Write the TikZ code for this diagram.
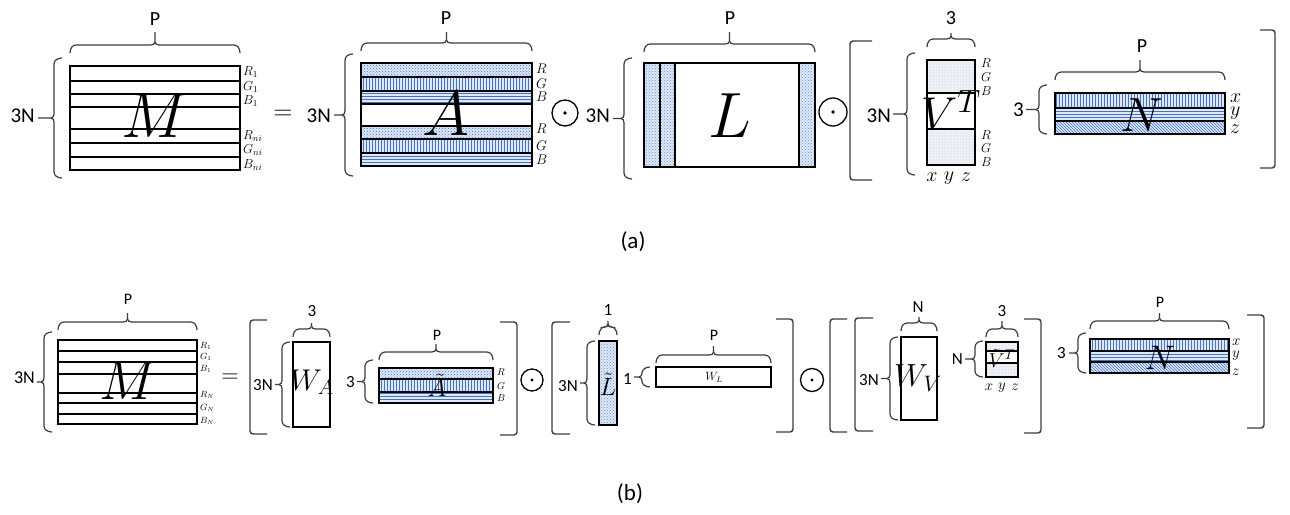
\RequirePackage{fix-cm}
\documentclass[tikz,border=0pt]{standalone}
\usepackage{fontspec}
\newfontfamily\carl{Carlito}
\usetikzlibrary{patterns}
\definecolor{lb}{RGB}{222,232,246}
\definecolor{pb}{RGB}{68,114,196}
\definecolor{vb}{RGB}{238,242,248}
\definecolor{brcol}{RGB}{60,60,60}
\newcommand{\fsz}[1]{\fontsize{#1}{#1}\selectfont}
% horizontal brace: x1, x2, y of ends (bottom), y of stem top
\newcommand{\hbr}[4]{%
 \pgfmathsetmacro\xm{(#1+#2)/2}%
 \draw[bracel] (#1,#3) to[out=90,in=180] (#1+6,#3-8) -- (\xm-4,#3-8) to[out=0,in=-90] (\xm,#3-11) -- (\xm,#4);
 \draw[bracel] (#2,#3) to[out=90,in=0] (#2-6,#3-8) -- (\xm+4,#3-8) to[out=180,in=-90] (\xm,#3-11);}
% vertical brace: x of ends (right), y1 (top), y2 (bottom), x of stem end
\newcommand{\vbr}[4]{%
 \pgfmathsetmacro\ym{(#2+#3)/2}%
 \draw[bracel] (#1,#2) to[out=180,in=90] (#1-8,#2+6) -- (#1-8,\ym-4) to[out=-90,in=0] (#1-11,\ym) -- (#4,\ym);
 \draw[bracel] (#1,#3) to[out=180,in=-90] (#1-8,#3-6) -- (#1-8,\ym+4) to[out=90,in=0] (#1-11,\ym);}
% square bracket: x of vertical, x of ends, y top, y bottom
\newcommand{\sqbr}[4]{\draw[sqb] (#2,#3) -- (#1,#3) -- (#1,#4) -- (#2,#4);}
\tikzset{
 matb/.style={draw=black, line width=1.9pt},
 inl/.style={draw=black, line width=1.8pt},
 bracel/.style={draw=brcol, line width=1.2pt},
 sqb/.style={draw=brcol, line width=1.4pt, rounded corners=3pt},
 rb/.style={preaction={fill=lb}, pattern=crosshatch dots, pattern color=pb},
 gb/.style={preaction={fill=lb}, pattern=vertical lines, pattern color=pb},
 bb/.style={preaction={fill=lb}, pattern=horizontal lines, pattern color=pb},
 zb/.style={preaction={fill=lb}, pattern=north west lines, pattern color=pb},
 lbd/.style={preaction={fill=lb}, pattern=crosshatch dots, pattern color=pb!80},
 vtd/.style={preaction={fill=vb}, pattern=dots, pattern color=gray!60},
 txt/.style={inner sep=0pt},
 sl/.style={inner sep=0pt, font=\carl},
 odot/.style={circle, draw=black, line width=1.3pt, inner sep=0pt},
}
\begin{document}
\begin{tikzpicture}[x=1pt,y=-1pt]
\useasboundingbox[fill=white] (0,0) rectangle (1290,514);

% ===================== (a) =====================
% M
\foreach \yy in {80.7,94,107.3,129,143.3,157.3} \draw[inl] (70,\yy) -- (240,\yy);
\draw[matb] (70,66) rectangle (240,170);
\node[txt] (mA) at (155,116) {\fsz{64}$M$};
\hbr{70}{240}{53}{32}
\node[sl] (pM) at (155,19) {\fsz{20}P};
\vbr{62}{58}{178}{38}
\node[sl, anchor=east] (nM) at (35,116) {\fsz{21}3N};
\node[txt, anchor=west] (r1) at (243,71.7) {\fsz{13}$R_1$};
\node[txt, anchor=west] (g1) at (243,87) {\fsz{13}$G_1$};
\node[txt, anchor=west] (b1) at (243,101.5) {\fsz{13}$B_1$};
\node[txt, anchor=west] (rn) at (243,136) {\fsz{13}$R_{ni}$};
\node[txt, anchor=west] (gn) at (243,150.5) {\fsz{13}$G_{ni}$};
\node[txt, anchor=west] (bn) at (243,165) {\fsz{13}$B_{ni}$};
\node[txt] (eqa) at (283,115) {\fsz{26}$=$};

% A
\path[rb] (361,63) rectangle (532,77.3);
\path[gb] (361,77.3) rectangle (532,91);
\path[bb] (361,91) rectangle (532,104);
\path[rb] (361,125.7) rectangle (532,139);
\path[gb] (361,139) rectangle (532,152.7);
\path[bb] (361,152.7) rectangle (532,166);
\foreach \yy in {77.3,91,104,125.7,139,152.7} \draw[inl] (361,\yy) -- (532,\yy);
\draw[matb] (361,63) rectangle (532,166);
\node[txt] (aA) at (446,114) {\fsz{64}$A$};
\hbr{361}{532}{51}{32}
\node[sl] (pA) at (446,18) {\fsz{20}P};
\vbr{353}{54}{176}{334}
\node[sl, anchor=east] (nA) at (331,116) {\fsz{21}3N};
\node[txt, anchor=west] (ar1) at (536,69) {\fsz{14}$R$};
\node[txt, anchor=west] (ag1) at (536,84) {\fsz{14}$G$};
\node[txt, anchor=west] (ab1) at (536,97) {\fsz{14}$B$};
\node[txt, anchor=west] (ar2) at (536,129) {\fsz{14}$R$};
\node[txt, anchor=west] (ag2) at (536,146) {\fsz{14}$G$};
\node[txt, anchor=west] (ab2) at (536,160) {\fsz{14}$B$};
\node[odot, minimum size=26pt] (o1) at (565,113) {};
\fill (o1.center) circle (1.8pt);

% L
\path[lbd] (644,63) rectangle (660,167);
\path[lbd] (660,63) rectangle (675,167);
\path[lbd] (799,63) rectangle (815,167);
\foreach \xx in {660,675,799} \draw[inl] (\xx,63) -- (\xx,167);
\draw[matb] (644,63) rectangle (815,167);
\node[txt] (lA) at (730,116) {\fsz{64}$L$};
\hbr{644}{815}{52}{32}
\node[sl] (pL) at (730,18) {\fsz{20}P};
\vbr{632}{58}{179}{613}
\node[sl, anchor=east] (nL) at (610,116) {\fsz{21}3N};
\node[odot, minimum size=28pt] (o2) at (833,112) {};
\fill (o2.center) circle (1.8pt);

% big bracket
\sqbr{850}{872}{41}{180}

% V^T
\path[vtd] (927,60) rectangle (975,92.7);
\path[vtd] (927,129) rectangle (975,165);
\draw[inl] (927,92.7) -- (975,92.7);
\draw[inl] (927,129) -- (975,129);
\draw[matb] (927,60) rectangle (975,165);
\node[txt] (vA) at (951,110) {\fsz{46}$V^T$};
\hbr{927}{975}{47}{33}
\node[sl] (tV) at (951,18) {\fsz{20}3};
\vbr{915}{53}{175}{893}
\node[sl, anchor=east] (nV) at (891,116) {\fsz{21}3N};
\node[txt, anchor=west] (vr1) at (981,63) {\fsz{13}$R$};
\node[txt, anchor=west] (vg1) at (981,77.5) {\fsz{13}$G$};
\node[txt, anchor=west] (vb1) at (981,91) {\fsz{13}$B$};
\node[txt, anchor=west] (vr2) at (981,135) {\fsz{13}$R$};
\node[txt, anchor=west] (vg2) at (981,148.5) {\fsz{13}$G$};
\node[txt, anchor=west] (vb2) at (981,162) {\fsz{13}$B$};
\node[txt] (vx) at (932,177) {\fsz{20}$x$};
\node[txt] (vy) at (949,178) {\fsz{20}$y$};
\node[txt] (vz) at (966,177) {\fsz{20}$z$};

% N
\path[gb] (1055,93.3) rectangle (1225,107.7);
\path[bb] (1055,107.7) rectangle (1225,121);
\path[zb] (1055,121) rectangle (1225,134.3);
\draw[inl] (1055,107.7) -- (1225,107.7);
\draw[inl] (1055,121) -- (1225,121);
\draw[matb] (1055,93.3) rectangle (1225,134.3);
\node[txt] (nAm) at (1142,115) {\fsz{48}$N$};
\hbr{1055}{1225}{80}{60}
\node[sl] (pN) at (1142,46) {\fsz{20}P};
\vbr{1047}{85}{134}{1026}
\node[sl, anchor=east] (tN) at (1024,110) {\fsz{21}3};
\node[txt, anchor=west] (nx) at (1230,98) {\fsz{20}$x$};
\node[txt, anchor=west] (ny) at (1230,113) {\fsz{20}$y$};
\node[txt, anchor=west] (nz) at (1230,129) {\fsz{20}$z$};
\sqbr{1275}{1260}{30}{168}

\node[sl] (capa) at (633,242) {\fsz{23}(a)};

% ===================== (b) =====================
% M
\foreach \yy in {351,361.7,374,392.7,403.3,414.3} \draw[inl] (58,\yy) -- (197,\yy);
\draw[matb] (58,340) rectangle (197,424);
\node[txt] (mB) at (128,381) {\fsz{55}$M$};
\hbr{58}{197}{330}{313}
\node[sl] (pMb) at (128,299) {\fsz{16}P};
\vbr{52}{332}{432}{37}
\node[sl, anchor=east] (nMb) at (35,378) {\fsz{18}3N};
\node[txt, anchor=west] (br1) at (200,346) {\fsz{9}$R_1$};
\node[txt, anchor=west] (bg1) at (200,357) {\fsz{9}$G_1$};
\node[txt, anchor=west] (bb1) at (200,369) {\fsz{9}$B_1$};
\node[txt, anchor=west] (brn) at (200,395) {\fsz{9}$R_N$};
\node[txt, anchor=west] (bgn) at (200,408) {\fsz{9}$G_N$};
\node[txt, anchor=west] (bbn) at (200,421) {\fsz{9}$B_N$};
\node[txt] (eqb) at (230,378) {\fsz{24}$=$};

\sqbr{250}{267}{320}{434}
% W_A
\draw[matb] (293,342) rectangle (330,427);
\node[txt] (wa) at (312,382) {\fsz{30}$W_A$};
\hbr{293}{330}{337}{323}
\node[sl] (tWa) at (312,311) {\fsz{17}3};
\vbr{290}{342}{427}{275}
\node[sl, anchor=east] (nWa) at (273,385) {\fsz{17}3N};
% A tilde
\path[rb] (379,368) rectangle (493,379.3);
\path[gb] (379,379.3) rectangle (493,391.7);
\path[bb] (379,391.7) rectangle (493,403);
\draw[inl] (379,379.3) -- (493,379.3);
\draw[inl] (379,391.7) -- (493,391.7);
\draw[matb] (379,368) rectangle (493,403);
\node[txt] (at) at (437,385) {\fsz{25}$\tilde{A}$};
\hbr{379}{493}{360}{344}
\node[sl] (pAt) at (437,335) {\fsz{16}P};
\vbr{373}{360}{403}{357}
\node[sl, anchor=east] (tAt) at (355,382) {\fsz{17}3};
\node[txt, anchor=west] (atr) at (497,372) {\fsz{10}$R$};
\node[txt, anchor=west] (atg) at (497,386) {\fsz{10}$G$};
\node[txt, anchor=west] (atb) at (497,398) {\fsz{10}$B$};
\sqbr{517}{500}{322}{435}
\node[odot, minimum size=22pt] (o3) at (532,380) {};
\fill (o3.center) circle (1.6pt);

\sqbr{552}{570}{322}{434}
% L tilde
\path[lbd] (599,341) rectangle (617,425);
\draw[matb] (599,341) rectangle (617,425);
\node[txt] (lt) at (608,384) {\fsz{25}$\tilde{L}$};
\hbr{599}{617}{335}{321}
\node[sl] (oLt) at (608,310) {\fsz{17}1};
\vbr{595}{341}{425}{580}
\node[sl, anchor=east] (nLt) at (578,386) {\fsz{17}3N};
% W_L
\draw[matb] (656,367) rectangle (771,387);
\node[txt] (wl) at (714,377) {\fsz{12}$W_L$};
\hbr{656}{771}{363}{346}
\node[sl] (pWl) at (714,335) {\fsz{16}P};
\vbr{650}{367}{387}{634}
\node[sl, anchor=east] (oWl) at (632,379) {\fsz{17}1};
\sqbr{793}{776}{319}{432}
\node[odot, minimum size=23pt] (o4) at (812,380) {};
\fill (o4.center) circle (1.6pt);

\sqbr{830}{847}{319}{432}
\sqbr{855}{873}{318}{431}
% W_V
\draw[matb] (901,337) rectangle (937,420);
\node[txt] (wv) at (918,378) {\fsz{32}$W_V$};
\hbr{901}{937}{331}{317}
\node[sl] (nWv) at (918,307) {\fsz{17}N};
\vbr{898}{337}{420}{881}
\node[sl, anchor=east] (tnWv) at (879,380) {\fsz{17}3N};
% V tilde T
\path[vtd] (986,342) rectangle (1018,351);
\path[vtd] (986,363) rectangle (1018,377);
\draw[inl] (986,351) -- (1018,351);
\draw[inl] (986,363) -- (1018,363);
\draw[matb] (986,342) rectangle (1018,377);
\node[txt] (vt) at (1002,358) {\fsz{20}$\tilde{V}^T$};
\hbr{986}{1018}{337}{321}
\node[sl] (tVt) at (1002,311) {\fsz{17}3};
\vbr{983}{341}{377}{965}
\node[sl, anchor=east] (nVt) at (963,359) {\fsz{17}N};
\node[txt] (vtx) at (989,387) {\fsz{15}$x$};
\node[txt] (vty) at (1002,388) {\fsz{15}$y$};
\node[txt] (vtz) at (1015,387) {\fsz{15}$z$};
\sqbr{1041}{1024}{319}{433}
% N bottom
\path[gb] (1090,339) rectangle (1229,351);
\path[bb] (1090,351) rectangle (1229,362);
\path[zb] (1090,362) rectangle (1229,373);
\draw[inl] (1090,351) -- (1229,351);
\draw[inl] (1090,362) -- (1229,362);
\draw[matb] (1090,339) rectangle (1229,373);
\node[txt] (nBm) at (1160,358) {\fsz{34}$N$};
\hbr{1090}{1229}{329}{313}
\node[sl] (pNb) at (1160,302) {\fsz{16}P};
\vbr{1086}{333}{373}{1069}
\node[sl, anchor=east] (tNb) at (1066,353) {\fsz{17}3};
\node[txt, anchor=west] (nbx) at (1232,342) {\fsz{15}$x$};
\node[txt, anchor=west] (nby) at (1232,356) {\fsz{15}$y$};
\node[txt, anchor=west] (nbz) at (1232,372) {\fsz{15}$z$};
\sqbr{1264}{1247}{315}{428}

\node[sl] (capb) at (630,494) {\fsz{23}(b)};
\end{tikzpicture}
\end{document}
